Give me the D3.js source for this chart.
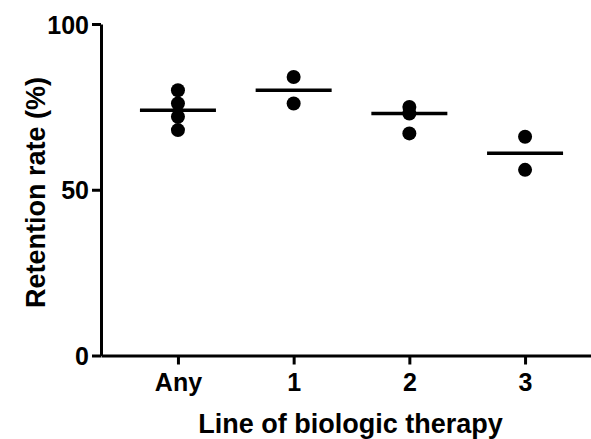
<!DOCTYPE html>
<html>
<head>
<meta charset="utf-8">
<script src="https://cdn.jsdelivr.net/npm/d3@7"></script>
<style>
  html, body { margin: 0; padding: 0; background: #fff; }
  svg { display: block; }
  text { font-family: "Liberation Sans", Arial, sans-serif; font-weight: bold; fill: #000; }
  .tick text { font-size: 25px; }
</style>
</head>
<body>
<svg id="chart" width="591" height="439"></svg>
<script>
const categories = ["Any", "1", "2", "3"];
const valuesAny = [80, 76, 72, 68];
const values1 = [84, 76];
const values2 = [75, 73, 67];
const values3 = [66, 56];
const lineValues = [74, 80, 73, 61];
const yTicks = [0, 50, 100];
const yTitle = "Retention rate (%)";
const xTitle = "Line of biologic therapy";

const groups = [valuesAny, values1, values2, values3];

const svg = d3.select("#chart");

const y = d3.scaleLinear().domain([0, 100]).range([355.5, 24]);
const x = d3.scalePoint().domain(categories).range([101, 602]).padding(0.665);

// Y axis
const yAxis = svg.append("g")
  .attr("transform", "translate(101,0)")
  .call(d3.axisLeft(y).tickValues(yTicks).tickSize(9).tickPadding(3).tickSizeOuter(0));
yAxis.attr("font-size", null).attr("font-family", null);
yAxis.select(".domain").attr("stroke", "#000").attr("stroke-width", 3);
yAxis.selectAll(".tick line").attr("stroke", "#000").attr("stroke-width", 3);
yAxis.selectAll(".tick text").attr("dy", "0.36em");

// X axis
const xAxis = svg.append("g")
  .attr("transform", "translate(0,355.5)")
  .call(d3.axisBottom(x).tickSize(9).tickPadding(9).tickSizeOuter(0));
xAxis.attr("font-size", null).attr("font-family", null);
xAxis.select(".domain").attr("stroke", "#000").attr("stroke-width", 3);
xAxis.selectAll(".tick line").attr("stroke", "#000").attr("stroke-width", 3);

// Center lines
svg.append("g").selectAll("line.med")
  .data(categories)
  .join("line")
  .attr("class", "med")
  .attr("x1", d => x(d) - 38)
  .attr("x2", d => x(d) + 38)
  .attr("y1", (d, i) => y(lineValues[i]))
  .attr("y2", (d, i) => y(lineValues[i]))
  .attr("stroke", "#000")
  .attr("stroke-width", 3.5);

// Dots
const pts = [];
groups.forEach((vals, i) => vals.forEach(v => pts.push({ cat: categories[i], v })));
svg.append("g").selectAll("circle")
  .data(pts)
  .join("circle")
  .attr("cx", d => x(d.cat))
  .attr("cy", d => y(d.v))
  .attr("r", 7)
  .attr("fill", "#000");

// Titles
svg.append("text")
  .attr("transform", "translate(45,192.5) rotate(-90)")
  .attr("text-anchor", "middle")
  .style("font-size", "27px")
  .text(yTitle);

svg.append("text")
  .attr("x", 350.5)
  .attr("y", 433)
  .attr("text-anchor", "middle")
  .style("font-size", "27px")
  .text(xTitle);
</script>
</body>
</html>
